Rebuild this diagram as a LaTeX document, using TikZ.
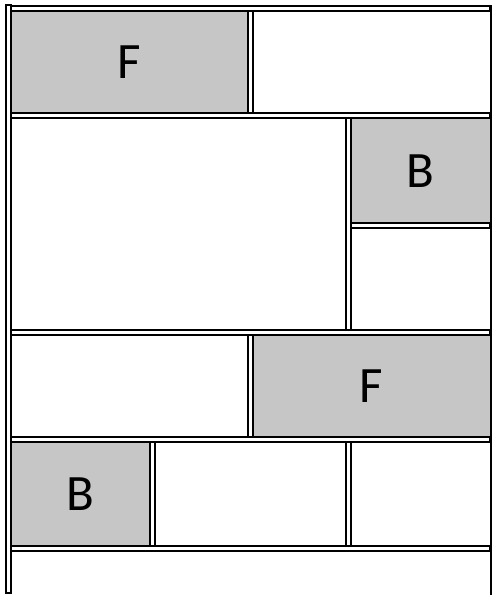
\documentclass[tikz,border=0pt]{standalone}
\usepackage{fontspec}
\setmainfont{Carlito}
\definecolor{cellgray}{HTML}{C6C6C6}
\begin{document}
\begin{tikzpicture}[x=1pt, y=-1pt,
    bar/.style={draw=black, fill=white, line width=1.5pt},
    cell/.style={fill=cellgray, inner sep=0pt, anchor=north west,
                 font=\fontsize{51}{60}\selectfont}
  ]
    \useasboundingbox (0,0) rectangle (492,595);
    % shaded cells
    \node[cell, minimum width=237pt, minimum height=102pt] (f1) at (11,11) {F};
    \node[cell, minimum width=139pt, minimum height=105pt] (b1) at (351,118) {B};
    \node[cell, minimum width=237pt, minimum height=102pt] (f2) at (253,335) {F};
    \node[cell, minimum width=139pt, minimum height=104pt] (b2) at (11,442) {B};
    % frame
    \draw[line width=1.5pt] (491,5) -- (491,595);
    \draw[bar] (6,5) rectangle (11,593);
    % vertical dividers
    \draw[bar] (248,11) rectangle (253,113);
    \draw[bar] (346,118) rectangle (351,330);
    \draw[bar] (248,335) rectangle (253,437);
    \draw[bar] (150,442) rectangle (155,546);
    \draw[bar] (346,442) rectangle (351,546);
    % horizontal dividers
    \draw[bar] (351,223) rectangle (490,228);
    \foreach \y in {6,113,330,437,546}
      \draw[bar] (11,\y) rectangle (490,\y+5);
  \end{tikzpicture}
\end{document}
